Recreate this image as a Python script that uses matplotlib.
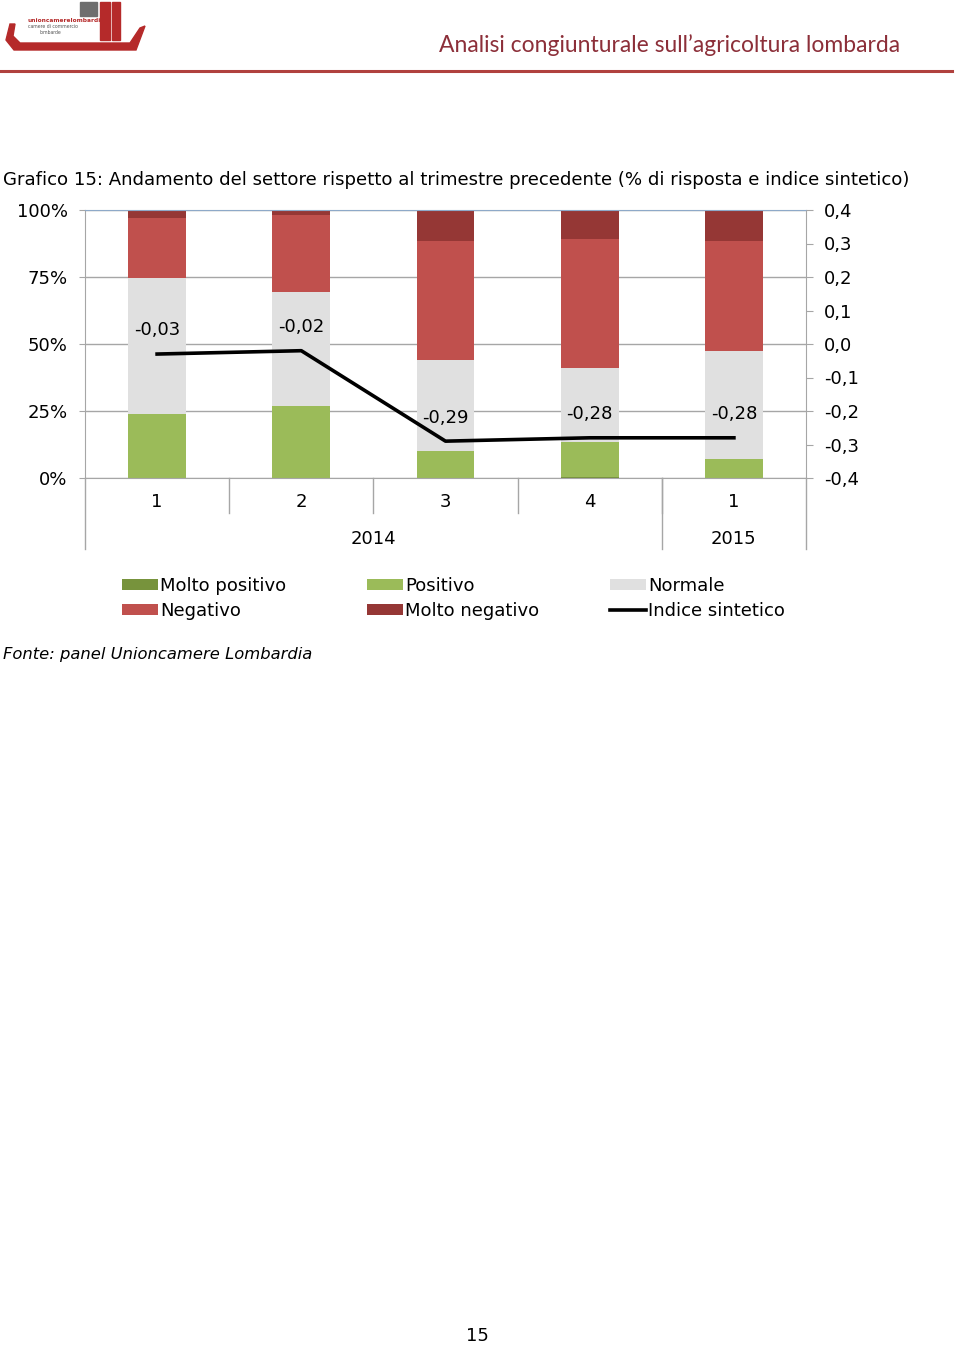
import numpy as np
import matplotlib
matplotlib.use('Agg')
import matplotlib.pyplot as plt
from matplotlib.patches import Patch, Rectangle, Polygon
from matplotlib.lines import Line2D
import matplotlib.transforms as mtransforms

# dati (% di risposta)
trimestri = ['1', '2', '3', '4', '1']
anni = ['2014', '2015']
molto_positivo = [0, 0, 0, 0.5, 0]
positivo = [24, 27, 10, 13, 7]
normale = [50.5, 42.5, 34, 27.5, 40.5]
negativo = [22.5, 28.5, 44.5, 48, 41]
molto_negativo = [3, 2, 11.5, 11, 11.5]
indice = [-0.03, -0.02, -0.29, -0.28, -0.28]

serie = [('Molto positivo', molto_positivo, '#77933C'),
         ('Positivo', positivo, '#9BBB59'),
         ('Normale', normale, '#E0E0E0'),
         ('Negativo', negativo, '#C0504D'),
         ('Molto negativo', molto_negativo, '#953735')]

W, H = 960, 1345
FS = 13
fig = plt.figure(figsize=(W / 100, H / 100), dpi=100)
plt.rcParams['font.family'] = ['DejaVu Sans']


def fx(x):
    return x / W


def fy(y):
    return 1 - y / H


# intestazione
fig.text(fx(900), fy(45), 'Analisi congiunturale sull\u2019agricoltura lombarda',
         ha='right', va='center', fontsize=16.5, color='#8C2F39', family='Lato')
fig.add_artist(Line2D([fx(0), fx(952)], [fy(71), fy(71)], color='#B0413E', lw=2.2))
# logo (approssimato)
fig.add_artist(Rectangle((fx(80), fy(16)), 17 / W, 14 / H, color='#6E6E6E'))
fig.add_artist(Rectangle((fx(100), fy(40)), 10 / W, 38 / H, color='#B52A2A'))
fig.add_artist(Rectangle((fx(112), fy(40)), 8 / W, 38 / H, color='#B52A2A'))
fig.add_artist(Polygon([(fx(10), fy(24)), (fx(6), fy(40)), (fx(14), fy(50)), (fx(136), fy(50)),
                        (fx(145), fy(26)), (fx(140), fy(28)), (fx(130), fy(43)), (fx(20), fy(43)),
                        (fx(13), fy(36)), (fx(15), fy(24))], closed=True, color='#B52A2A'))
fig.text(fx(28), fy(20), 'unioncamerelombardia', fontsize=4.2, color='#B52A2A',
         fontweight='bold', va='center')
fig.text(fx(28), fy(27), 'camere di commercio', fontsize=3.3, color='#555555', va='center')
fig.text(fx(40), fy(33), 'lombarde', fontsize=3.3, color='#555555', va='center')

# titolo
fig.text(fx(3), fy(180), 'Grafico 15: Andamento del settore rispetto al trimestre precedente '
         '(% di risposta e indice sintetico)', fontsize=13.1, va='center')

ax = fig.add_axes([fx(85), fy(478), (806 - 85) / W, 268 / H])
x = np.arange(len(trimestri))
bottom = np.zeros(len(x))
for nome, val, col in serie:
    ax.bar(x, val, width=0.4, bottom=bottom, color=col, zorder=2)
    bottom += np.array(val)

ax.set_xlim(-0.5, len(x) - 0.5)
ax.set_ylim(0, 100)
ax.set_yticks([0, 25, 50, 75, 100])
ax.set_yticklabels(['0%', '25%', '50%', '75%', '100%'])
ax.yaxis.grid(True, color='#A6A6A6', lw=1, zorder=0)
ax.set_axisbelow(True)
ax.tick_params(axis='y', length=4, pad=8.5, labelsize=FS, color='#A6A6A6')
ax.set_xticks([])
for s in ['left', 'right', 'bottom']:
    ax.spines[s].set_color('#A6A6A6')
ax.spines['top'].set_color('#8EA9C8')

# asse delle categorie a due livelli
tr = mtransforms.blended_transform_factory(ax.transData, ax.transAxes)
for i, t in enumerate(trimestri):
    ax.text(x[i], -24 / 268, t, transform=tr, ha='center', va='center', fontsize=FS)
for sep in x[:-1] + 0.5:
    ax.add_line(Line2D([sep, sep], [0, -35 / 268], transform=tr, color='#A6A6A6',
                       lw=1, clip_on=False))
for sep in [-0.5, 3.5, 4.5]:
    ax.add_line(Line2D([sep, sep], [0, -71 / 268], transform=tr, color='#A6A6A6',
                       lw=1, clip_on=False))
ax.text(1.5, -61 / 268, anni[0], transform=tr, ha='center', va='center', fontsize=FS)
ax.text(4, -61 / 268, anni[1], transform=tr, ha='center', va='center', fontsize=FS)

# indice sintetico sull'asse secondario
ax2 = ax.twinx()
ax2.plot(x, indice, color='black', lw=2.6, zorder=5)
ax2.set_ylim(-0.4, 0.4)
ticks = np.round(np.arange(-0.4, 0.41, 0.1), 1)
ax2.set_yticks(ticks)
ax2.set_yticklabels([f'{abs(v):.1f}'.replace('.', ',') if v >= 0 else
                     '-' + f'{abs(v):.1f}'.replace('.', ',') for v in ticks])
ax2.tick_params(axis='y', length=5, pad=8, labelsize=FS, color='#A6A6A6')
for s in ax2.spines.values():
    s.set_visible(False)
for xi, v in zip(x, indice):
    ax2.annotate(f'{v:.2f}'.replace('.', ','), (xi, v), xytext=(0, 17),
                 textcoords='offset points', ha='center', va='center', fontsize=FS)

# legenda
cols = [[('Molto positivo', '#77933C'), ('Negativo', '#C0504D')],
        [('Positivo', '#9BBB59'), ('Molto negativo', '#953735')],
        [('Normale', '#E0E0E0'), ('Indice sintetico', None)]]
for cx, voci in zip([122, 367, 610], cols):
    handles = []
    for nome, col in voci:
        if col is None:
            handles.append(Line2D([], [], color='black', lw=2.6))
        else:
            handles.append(Patch(facecolor=col, edgecolor='none'))
    fig.legend(handles, [v[0] for v in voci], loc='upper left',
               bbox_to_anchor=(fx(cx), fy(577)), frameon=False, fontsize=FS,
               handlelength=2.0, handleheight=0.5, handletextpad=0.12,
               labelspacing=0.38, borderpad=0, borderaxespad=0)

fig.text(fx(3), fy(655), 'Fonte: panel Unioncamere Lombardia', fontsize=11.8,
         style='italic', va='center')
fig.text(fx(477), fy(1336), '15', fontsize=FS, ha='center', va='center')

fig.savefig('out.png', dpi=100)
